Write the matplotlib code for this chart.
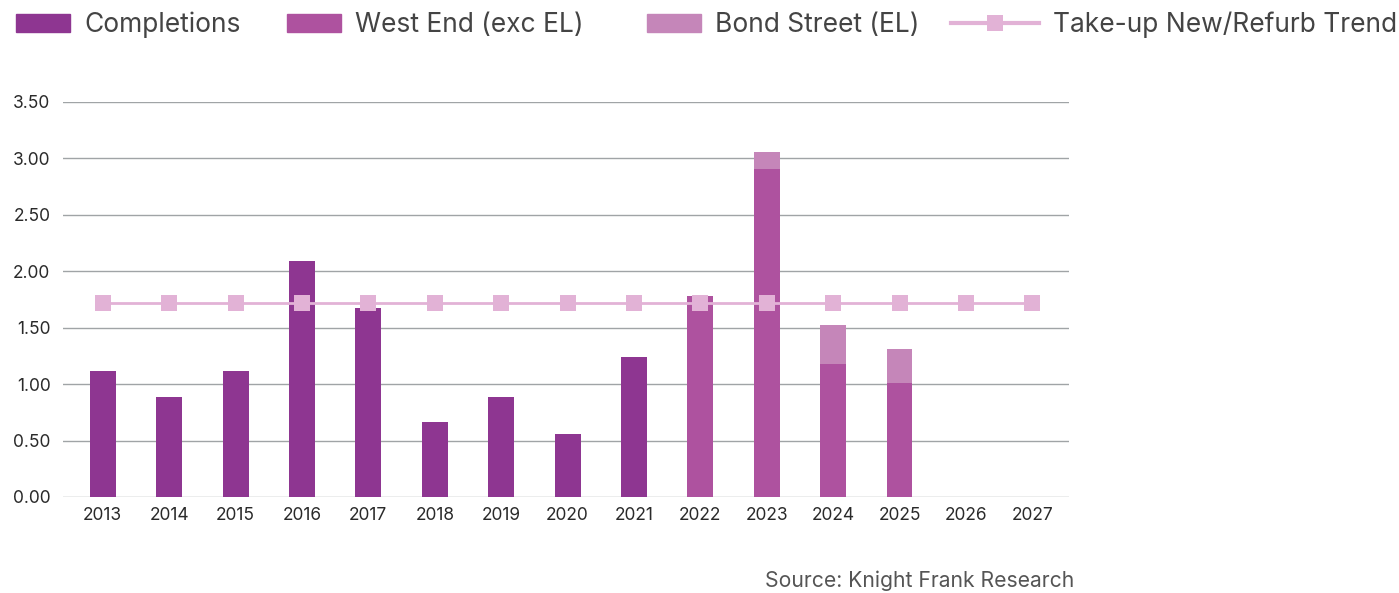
import numpy as np
import matplotlib.pyplot as plt
from matplotlib.patches import Patch
from matplotlib.lines import Line2D

# Дані
years = ['2013', '2014', '2015', '2016', '2017', '2018', '2019', '2020',
         '2021', '2022', '2023', '2024', '2025', '2026', '2027']
completions = [1.12, 0.89, 1.12, 2.09, 1.67, 0.66, 0.89, 0.56, 1.24,
               0, 0, 0, 0, 0, 0]
west_end = [0, 0, 0, 0, 0, 0, 0, 0, 0, 1.78, 2.91, 1.18, 1.01, 0, 0]
bond_street = [0, 0, 0, 0, 0, 0, 0, 0, 0, 0, 0.15, 0.34, 0.30, 0, 0]
trend = [1.72] * 15
y_ticks = [0, 0.5, 1.0, 1.5, 2.0, 2.5, 3.0, 3.5]

c_compl = '#8E3691'
c_west = '#AE529F'
c_bond = '#C586B9'
c_trend = '#E2B2D6'

plt.rcParams['font.family'] = ['Inter', 'DejaVu Sans']

fig = plt.figure(figsize=(13.99, 5.93), dpi=100)
ax = fig.add_axes([0.045, 0.162, 0.719, 0.666])

x = np.arange(len(years))
w = 0.39
west_arr = np.array(west_end)
ax.bar(x, completions, w, color=c_compl, zorder=2)
ax.bar(x, west_end, w, color=c_west, zorder=2)
ax.bar(x, bond_street, w, bottom=west_arr, color=c_bond, zorder=2)
ax.plot(x, trend, color=c_trend, lw=2, marker='s', markersize=12,
        markeredgewidth=0, zorder=3)

ax.set_xlim(-0.6, 14.55)
ax.set_ylim(0, 3.5)
ax.set_yticks(y_ticks)
ax.set_yticklabels([f'{v:.2f}' for v in y_ticks])
ax.set_xticks(x)
ax.set_xticklabels(years)
ax.grid(axis='y', color='#A0A4A6', lw=1, zorder=0)
ax.tick_params(length=0, labelsize=12.5, colors='#2A2A2A', pad=7)
ax.tick_params(axis='y', pad=9)
for s in ax.spines.values():
    s.set_visible(False)

# легенда: кожен елемент окремо, щоб повторити нерівні відступи
handles = [Patch(color=c_compl), Patch(color=c_west), Patch(color=c_bond),
           Line2D([], [], color=c_trend, lw=3, marker='s', markersize=11,
                  markeredgewidth=0)]
labels = ['Completions', 'West End (exc EL)', 'Bond Street (EL)',
          'Take-up New/Refurb Trend']
starts = [16, 287, 647, 951]
hlens = [2.05, 2.05, 2.05, 3.33]
for h, lab, x0, hl in zip(handles, labels, starts, hlens):
    fig.legend([h], [lab], loc='center left',
               bbox_to_anchor=(x0 / 1399, 1 - 25 / 593),
               frameon=False, handlelength=hl, handleheight=0.65,
               handletextpad=0.53, borderpad=0, borderaxespad=0,
               labelcolor='#444444', prop={'family': 'Inter', 'size': 19})

fig.text(0.768, 0.003, 'Source: Knight Frank Research', ha='right',
         va='bottom', fontsize=15.2, color='#555555', family='Inter')

fig.savefig('out.png', dpi=100)
